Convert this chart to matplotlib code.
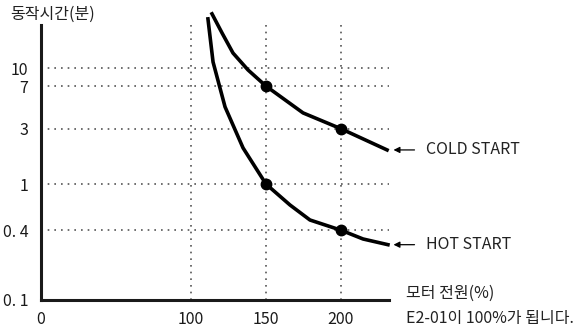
import matplotlib
matplotlib.use("Agg")
import matplotlib.pyplot as plt

plt.rcParams['font.family'] = ['Noto Sans CJK KR', 'DejaVu Sans']

# Operating time vs. motor current curves
cold_x = [114, 120.7, 128, 138, 150, 174.7, 200, 230.7]
cold_y = [29.4, 20.1, 13.5, 9.65, 7, 4.11, 3, 1.97]
hot_x = [111.3, 114.7, 122.7, 134.7, 150, 166, 179.3, 200, 214.7, 231.3]
hot_y = [26.6, 11.3, 4.63, 2.05, 1, 0.66, 0.49, 0.4, 0.336, 0.30]

# Marked reference points
cold_pts_x = [150, 200]
cold_pts_y = [7, 3]
hot_pts_x = [150, 200]
hot_pts_y = [1, 0.4]

x_ticks = [0, 100, 150, 200]
x_labels = ['0', '100', '150', '200']
y_ticks = [10, 7, 3, 1, 0.4, 0.1]
y_labels = ['10', '7', '3', '1', '0. 4', '0. 1']
grid_y = [10, 7, 3, 1, 0.4]
grid_x = [100, 150, 200]

FS = 11.5

fig = plt.figure(figsize=(5.8, 3.3), dpi=100)
ax = fig.add_axes([41/580, 1-300/330, (389-41)/580, (300-12)/330])
ax.set_yscale('log')
ax.set_xlim(0, 232)
ax.set_ylim(0.1, 30.5)

for s in ['top', 'right']:
    ax.spines[s].set_visible(False)
for s in ['left', 'bottom']:
    ax.spines[s].set_linewidth(2.2)
    ax.spines[s].set_color('#1a1a1a')
ax.spines['left'].set_bounds(0.1, 23.6)

grid_style = dict(color='#555555', linestyle=(0, (1, 3)), linewidth=1.2, zorder=1)
for gy in grid_y:
    ax.axhline(gy, **grid_style)
for gx in grid_x:
    ax.vlines(gx, 0.1, 26, **grid_style)

ax.plot(cold_x, cold_y, color='black', linewidth=2.6, zorder=3, clip_on=False)
ax.plot(hot_x, hot_y, color='black', linewidth=2.6, zorder=3, clip_on=False)
ax.plot(cold_pts_x, cold_pts_y, 'o', color='black', markersize=7.5, zorder=4)
ax.plot(hot_pts_x, hot_pts_y, 'o', color='black', markersize=7.5, zorder=4)

ax.set_xticks(x_ticks)
ax.set_xticklabels(x_labels, fontsize=FS)
ax.set_yticks(y_ticks)
ax.set_yticklabels(y_labels, fontsize=FS)
ax.yaxis.set_minor_locator(matplotlib.ticker.NullLocator())
ax.tick_params(length=0, pad=9, labelcolor='#1a1a1a')
ax.tick_params(axis='x', pad=8)

# Curve labels with pointer arrows
for yv, label in [(cold_y[-1], 'COLD START'), (hot_y[-1], 'HOT START')]:
    ax.annotate('', xy=(235, yv), xytext=(249, yv), annotation_clip=False,
                arrowprops=dict(arrowstyle='-|>', color='black', lw=0.9,
                                mutation_scale=9, shrinkA=0, shrinkB=0))
    ax.text(257, yv, label, fontsize=FS, va='center', ha='left',
            color='#222222', clip_on=False)

fig.text(10/580, 1-14/330, '동작시간(분)', fontsize=FS, va='center', ha='left',
         color='#222222')
fig.text(406/580, 1-293/330, '모터 전원(%)', fontsize=FS, va='center',
         ha='left', color='#222222')
fig.text(406/580, 1-318/330, 'E2-01이 100%가 됩니다.', fontsize=FS,
         va='center', ha='left', color='#222222')

fig.savefig('out.png', dpi=100, facecolor='white')
